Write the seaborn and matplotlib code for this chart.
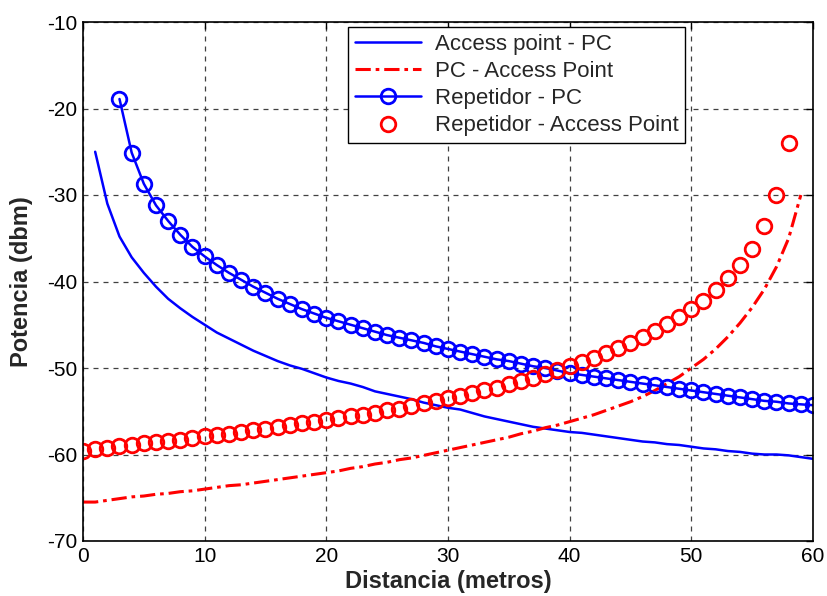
import numpy as np
import pandas as pd
import matplotlib
matplotlib.use("Agg")
import matplotlib.pyplot as plt
import seaborn as sns

# ---- data ----
x_ap_pc = list(range(1, 61))
y_ap_pc = [-25.0, -31.0, -34.8, -37.2, -39.0, -40.6, -42.0, -43.1, -44.1, -45.0,
           -45.9, -46.6, -47.3, -48.0, -48.6, -49.2, -49.7, -50.1, -50.6, -51.1,
           -51.5, -51.8, -52.2, -52.7, -53.0, -53.3, -53.6, -54.0, -54.3, -54.6,
           -54.8, -55.2, -55.6, -55.9, -56.2, -56.5, -56.8, -57.0, -57.2, -57.4,
           -57.5, -57.7, -57.9, -58.1, -58.3, -58.5, -58.6, -58.8, -58.9, -59.1,
           -59.3, -59.4, -59.6, -59.7, -59.9, -60.0, -60.0, -60.1, -60.3, -60.5]

x_pc_ap = list(range(0, 60))
y_pc_ap = [-65.5, -65.5, -65.3, -65.1, -64.9, -64.8, -64.6, -64.5, -64.3, -64.2,
           -64.0, -63.8, -63.6, -63.5, -63.3, -63.1, -62.9, -62.7, -62.5, -62.3,
           -62.1, -61.9, -61.6, -61.4, -61.1, -60.9, -60.6, -60.4, -60.1, -59.8,
           -59.5, -59.2, -58.9, -58.6, -58.3, -58.0, -57.6, -57.3, -56.9, -56.6,
           -56.2, -55.8, -55.4, -54.9, -54.4, -53.9, -53.3, -52.6, -51.8, -51.0,
           -50.0, -49.0, -47.8, -46.4, -44.8, -43.0, -40.9, -38.3, -35.0, -30.0]

x_rep_pc = list(range(3, 61))
y_rep_pc = [-18.9, -25.1, -28.7, -31.2, -33.0, -34.6, -36.0, -37.1, -38.1, -39.0,
            -39.8, -40.6, -41.3, -42.0, -42.6, -43.2, -43.7, -44.2, -44.6, -45.0,
            -45.4, -45.8, -46.2, -46.5, -46.8, -47.1, -47.5, -47.8, -48.1, -48.4,
            -48.7, -49.0, -49.2, -49.5, -49.8, -50.0, -50.3, -50.6, -50.8, -51.0,
            -51.2, -51.4, -51.6, -51.8, -52.0, -52.2, -52.4, -52.6, -52.8, -53.0,
            -53.2, -53.4, -53.6, -53.8, -53.9, -54.1, -54.2, -54.3]

x_rep_ap = list(range(0, 59))
y_rep_ap = [-59.6, -59.4, -59.2, -59.0, -58.9, -58.7, -58.6, -58.4, -58.3, -58.1,
            -57.9, -57.8, -57.6, -57.4, -57.2, -57.0, -56.8, -56.6, -56.4, -56.2,
            -56.0, -55.8, -55.6, -55.4, -55.2, -54.9, -54.7, -54.4, -54.1, -53.8,
            -53.5, -53.2, -52.9, -52.6, -52.3, -51.9, -51.5, -51.1, -50.7, -50.2,
            -49.8, -49.3, -48.8, -48.3, -47.7, -47.1, -46.4, -45.7, -44.9, -44.1,
            -43.2, -42.2, -41.0, -39.6, -38.1, -36.2, -33.6, -30.0, -24.0]

labels = ["Access point - PC", "PC - Access Point", "Repetidor - PC",
          "Repetidor - Access Point"]
x_ticks = [0, 10, 20, 30, 40, 50, 60]
y_ticks = [-70, -60, -50, -40, -30, -20, -10]

# ---- plot ----
sns.set_theme(style="white")
plt.rcParams['font.family'] = ['Liberation Sans', 'DejaVu Sans']

fig = plt.figure(figsize=(8.28, 5.96), dpi=100)
ax = fig.add_axes([83/828, 1 - 541/596, (813-83)/828, (541-22)/596])

sns.lineplot(x=x_ap_pc, y=y_ap_pc, ax=ax, color='#0000ff', linewidth=1.8,
             label=labels[0], estimator=None, sort=False)
sns.lineplot(x=x_pc_ap, y=y_pc_ap, ax=ax, color='#ff0000', linewidth=2.2,
             linestyle=(0, (5, 1.6, 1.2, 1.6)), label=labels[1],
             estimator=None, sort=False)
sns.lineplot(x=x_rep_pc, y=y_rep_pc, ax=ax, color='#0000ff', linewidth=1.8,
             marker='o', markersize=10.5, markerfacecolor='none',
             markeredgecolor='#0000ff', markeredgewidth=2.0,
             label=labels[2], estimator=None, sort=False)
sns.lineplot(x=x_rep_ap, y=y_rep_ap, ax=ax, color='#ff0000', linestyle='none',
             marker='o', markersize=10.5, markerfacecolor='none',
             markeredgecolor='#ff0000', markeredgewidth=2.0,
             label=labels[3], estimator=None, sort=False)

ax.set_xlim(0, 60)
ax.set_ylim(-70, -10)
ax.set_xticks(x_ticks)
ax.set_yticks(y_ticks)
ax.set_xticklabels([str(v) for v in x_ticks])
ax.set_yticklabels([str(v) for v in y_ticks])
ax.tick_params(direction='in', length=5, width=1, top=True, right=True,
               labelsize=15, colors='black', pad=4)
ax.grid(True, color='#404040', linestyle=(0, (4, 4)), linewidth=0.9)
for s in ax.spines.values():
    s.set_color('black')
    s.set_linewidth(1.2)

ax.set_xlabel("Distancia (metros)", fontsize=17, fontweight='bold', labelpad=3)
ax.set_ylabel("Potencia (dbm)", fontsize=17, fontweight='bold', labelpad=10)

leg = ax.legend(loc='upper left', bbox_to_anchor=((348-83)/730, 1 - (27-22)/519),
                fontsize=16, frameon=True, fancybox=False, framealpha=1,
                edgecolor='black', borderpad=0.3, labelspacing=0.28,
                handlelength=3.0, handletextpad=0.6, borderaxespad=0)
leg.get_frame().set_linewidth(1.0)

fig.savefig("out.png", dpi=100)
